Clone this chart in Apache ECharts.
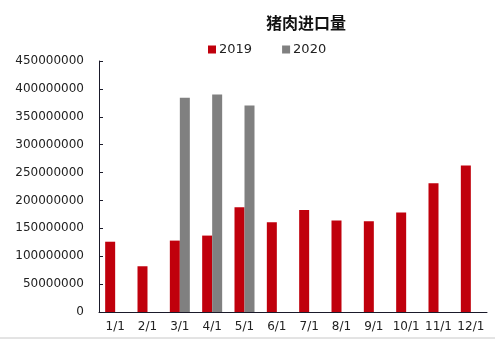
<!DOCTYPE html>
<html><head><meta charset="utf-8">
<script src="https://cdn.jsdelivr.net/npm/echarts@6/dist/echarts.min.js"></script>
<style>html,body{margin:0;padding:0;background:#fff}#c{width:495px;height:340px}</style>
</head><body><div id="c"></div>
<script>
const categories = ['1/1','2/1','3/1','4/1','5/1','6/1','7/1','8/1','9/1','10/1','11/1','12/1'];
const series2019 = [126000000, 82000000, 128000000, 137000000, 188000000, 161000000, 183000000, 164000000, 162500000, 178500000, 231000000, 262500000];
const series2020 = [null, null, 384000000, 390000000, 370000000, null, null, null, null, null, null, null];
const yTicks = [0, 50000000, 100000000, 150000000, 200000000, 250000000, 300000000, 350000000, 400000000, 450000000];

const chart = echarts.init(document.getElementById('c'), null, {renderer:'canvas'});
const axisColor = '#1a1a2a';
chart.setOption({
  animation:false,
  title:{text:'猪肉进口量', left:301, top:10, textAlign:'center',
    textStyle:{fontFamily:'Noto Sans CJK SC', fontSize:16, fontWeight:'bold', color:'#111'}},
  legend:{left:203, top:38, itemWidth:8, itemHeight:8, itemGap:30,
    icon:'rect',
    textStyle:{fontFamily:'DejaVu Sans', fontSize:13, color:'#222', padding:[0,0,0,-2]},
    data:['2019','2020']},
  grid:{left:99, right:8, top:61, bottom:28},
  xAxis:{type:'category', data:categories,
    axisLine:{lineStyle:{color:axisColor, width:1}},
    axisTick:{inside:true, length:4, lineStyle:{color:axisColor}},
    axisLabel:{fontFamily:'DejaVu Sans', fontSize:12, color:'#222', margin:9, interval:0}},
  yAxis:{type:'value', min:yTicks[0], max:yTicks[yTicks.length-1], interval:50000000,
    axisLine:{show:true, lineStyle:{color:axisColor, width:1}},
    axisTick:{show:true, inside:true, length:4, lineStyle:{color:axisColor}},
    splitLine:{show:false},
    axisLabel:{fontFamily:'DejaVu Sans', fontSize:12, color:'#222', margin:15,
      formatter:function(v){return String(v);}}},
  series:[
    {name:'2019', type:'bar', data:series2019, barWidth:10, barGap:'0%',
      itemStyle:{color:'#c0000c'}},
    {name:'2020', type:'bar', data:series2020, barWidth:10, barGap:'0%',
      itemStyle:{color:'#808080'}}
  ],
  graphic:[{type:'line', shape:{x1:0,y1:338,x2:495,y2:338}, style:{stroke:'#c8c8c8', lineWidth:1}}]
});
</script></body></html>
